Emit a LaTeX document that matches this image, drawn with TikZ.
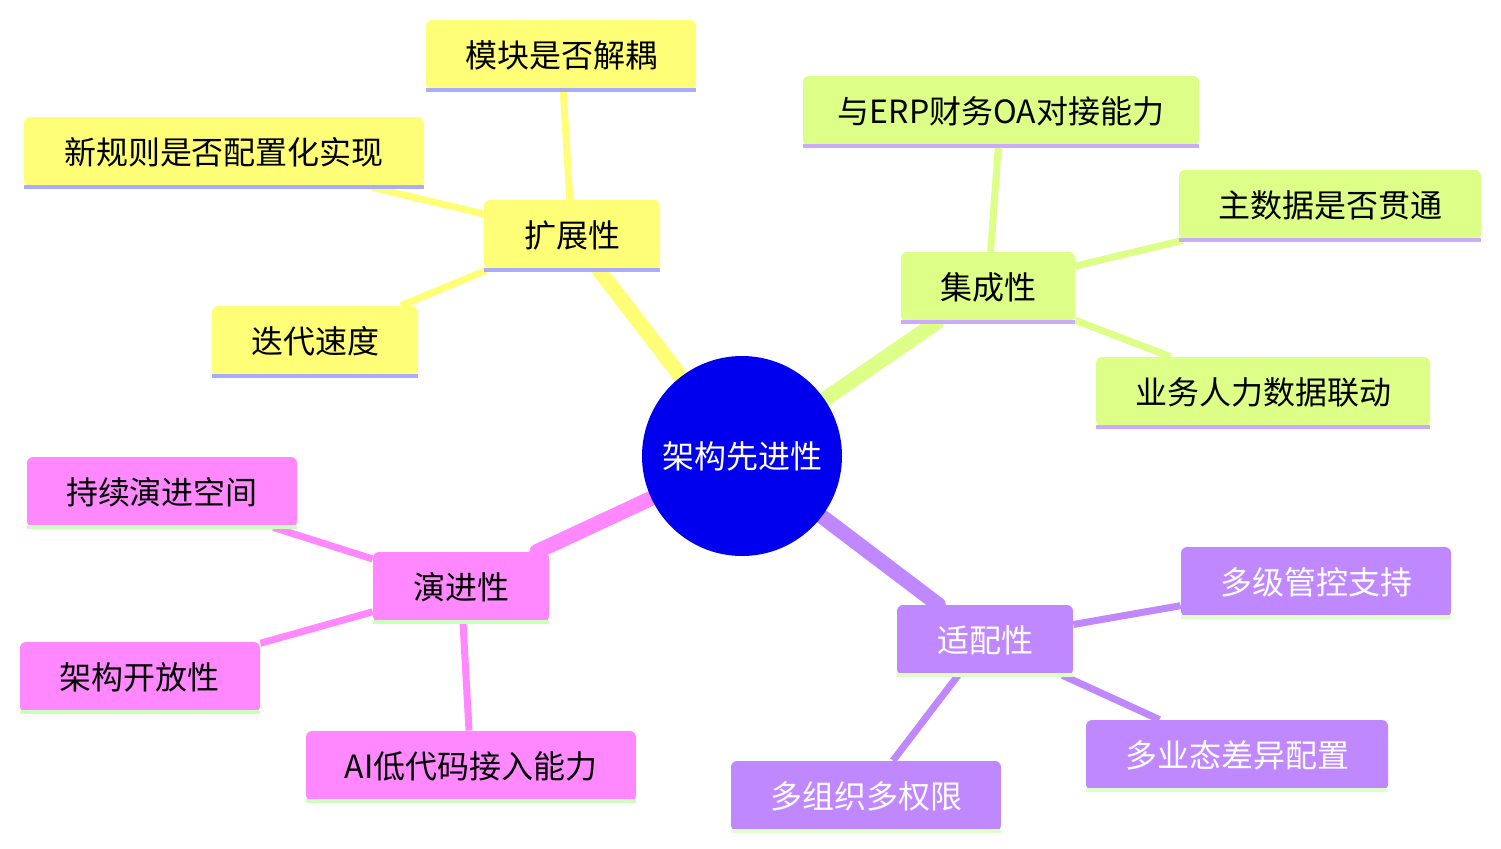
\documentclass[tikz,border=0pt]{standalone}
\usepackage{fontspec}
\setmainfont{Noto Sans CJK SC}
\usetikzlibrary{backgrounds}
\definecolor{rootblue}{HTML}{0000EE}
\definecolor{yel}{HTML}{FFFF77}
\definecolor{yelline}{HTML}{AAAAFF}
\definecolor{grn}{HTML}{DDFF88}
\definecolor{grnline}{HTML}{CCAAFF}
\definecolor{pnk}{HTML}{FF88FF}
\definecolor{pnkline}{HTML}{CCFFBB}
\definecolor{prp}{HTML}{C088FF}
\definecolor{prpline}{HTML}{DDFFCC}
\tikzset{
  box/.style={rounded corners=3pt, minimum height=35pt, inner xsep=10pt, font=\fontsize{16}{19}\selectfont},
  under/.style={append after command={(\tikzlastnode.south west) edge[draw=#1, line width=2pt] (\tikzlastnode.south east)}},
  ybox/.style={box, fill=yel, under=yelline},
  gbox/.style={box, fill=grn, under=grnline},
  pbox/.style={box, fill=pnk, under=pnkline},
  vbox/.style={box, fill=prp, text=white, under=prpline},
  main/.style={line width=7.5pt, line cap=round},
  sub/.style={line width=3.5pt},
}
\begin{document}
\begin{tikzpicture}[x=0.5pt, y=-0.5pt]
  \useasboundingbox (0,0) rectangle (1501,848);
  % root
  \node[circle, fill=rootblue, text=white, minimum size=100pt, font=\fontsize{16}{19}\selectfont] (root) at (742,456) {架构先进性};

  % branches
  \node[ybox, minimum width=88pt] (ext) at (572,235) {扩展性};
  \node[ybox, minimum width=135pt] (ext1) at (561,55) {模块是否解耦};
  \node[ybox, minimum width=200pt] (ext2) at (224,152) {新规则是否配置化实现};
  \node[ybox, minimum width=103pt] (ext3) at (315,341) {迭代速度};

  \node[gbox, minimum width=87pt] (int) at (988,287) {集成性};
  \node[gbox, minimum width=198pt] (int1) at (1001,111) {与ERP财务OA对接能力};
  \node[gbox, minimum width=151pt] (int2) at (1330,205) {主数据是否贯通};
  \node[gbox, minimum width=167pt] (int3) at (1263,392) {业务人力数据联动};

  \node[pbox, minimum width=88pt] (evo) at (461,587) {演进性};
  \node[pbox, minimum width=135pt] (evo1) at (162,492) {持续演进空间};
  \node[pbox, minimum width=120pt] (evo2) at (140,677) {架构开放性};
  \node[pbox, minimum width=165pt] (evo3) at (471,766) {AI低代码接入能力};

  \node[vbox, minimum width=88pt] (fit) at (985,640) {适配性};
  \node[vbox, minimum width=135pt] (fit1) at (1316,582) {多级管控支持};
  \node[vbox, minimum width=151pt] (fit2) at (1237,755) {多业态差异配置};
  \node[vbox, minimum width=135pt] (fit3) at (866,796) {多组织多权限};

  % connectors
  \begin{scope}[on background layer]
    \draw[main, yel] (root) -- (ext);
    \draw[main, grn] (root) -- (int);
    \draw[main, pnk] (root) -- (evo);
    \draw[main, prp] (root) -- (fit);
    \draw[sub, yel] (ext) -- (ext1) (ext) -- (ext2) (ext) -- (ext3);
    \draw[sub, grn] (int) -- (int1) (int) -- (int2) (int) -- (int3);
    \draw[sub, pnk] (evo) -- (evo1) (evo) -- (evo2) (evo) -- (evo3);
    \draw[sub, prp] (fit) -- (fit1) (fit) -- (fit2) (fit) -- (fit3);
  \end{scope}
\end{tikzpicture}
\end{document}
